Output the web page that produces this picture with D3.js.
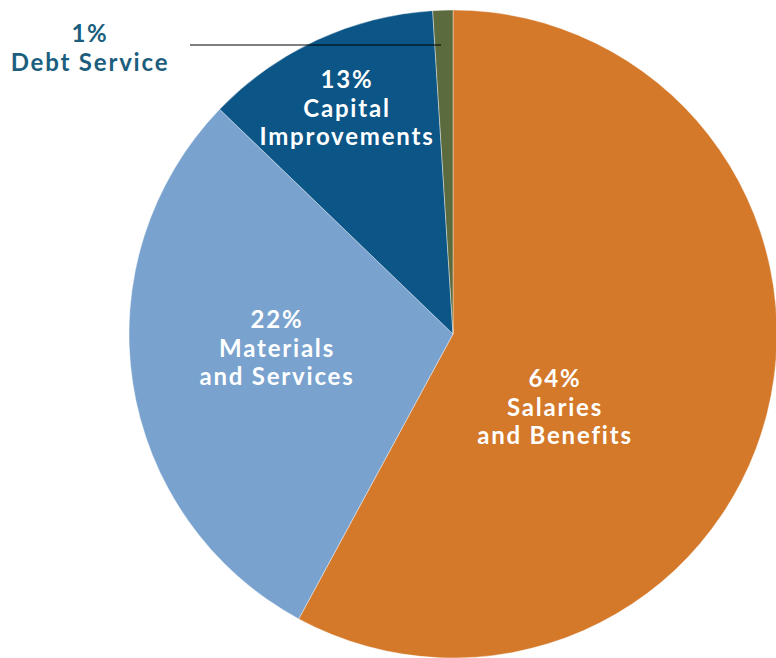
<!DOCTYPE html>
<html lang="en">
<head>
    <meta charset="UTF-8">
    <script src="https://d3js.org/d3.v7.min.js"></script>
    <title>Expenditure pie</title>
    <style>
        body { margin: 0; background: #fff; }
        text { font-family: Lato, sans-serif; font-weight: bold; }
    </style>
</head>
<body>
    <script>
        // Slice sizes as measured on the picture (clockwise from 12 o'clock)
        const categories = ["Salaries and Benefits", "Materials and Services", "Capital Improvements", "Debt Service"];
        const values = [57.9, 29.3, 11.8, 1.0];
        // Label texts as printed on the chart
        const pctLabels = ["64%", "22%", "13%", "1%"];
        const nameLines = [["Salaries", "and Benefits"], ["Materials", "and Services"], ["Capital", "Improvements"], ["Debt Service"]];
        const colors = ["#D4782A", "#79A3CE", "#0B5587", "#5B6B3E"];

        const width = 776, height = 658;
        const cx = 453, cy = 334, r = 324;

        const svg = d3.select("body").append("svg")
            .attr("width", width)
            .attr("height", height);

        const pie = d3.pie().sort(null).value(d => d);
        const arc = d3.arc().innerRadius(0).outerRadius(r);
        const arcs = pie(values);

        const g = svg.append("g").attr("transform", `translate(${cx},${cy})`);

        g.selectAll("path")
            .data(arcs)
            .enter().append("path")
            .attr("d", arc)
            .attr("fill", (d, i) => colors[i])
            .attr("stroke", "#fff")
            .attr("stroke-width", 0.4);

        // label anchor points (first baseline of each block), picked by eye
        const labelPos = [[555, 387], [277, 328], [347, 88], [90, 42]];
        const lineH = 28.5;

        // leader for the small slice
        svg.append("line")
            .attr("x1", 190).attr("x2", 441)
            .attr("y1", 45).attr("y2", 45)
            .attr("stroke", "#000")
            .attr("stroke-width", 1);

        categories.forEach((c, i) => {
            const lines = [pctLabels[i]].concat(nameLines[i]);
            lines.forEach((s, k) => {
                svg.append("text")
                    .attr("text-anchor", "middle")
                    .attr("font-size", 24)
                    .attr("letter-spacing", 1.8)
                    .attr("fill", i === 3 ? "#1B5E7E" : "#fff")
                    .attr("x", labelPos[i][0])
                    .attr("y", labelPos[i][1] + k * lineH)
                    .text(s);
            });
        });
    </script>
</body>
</html>
